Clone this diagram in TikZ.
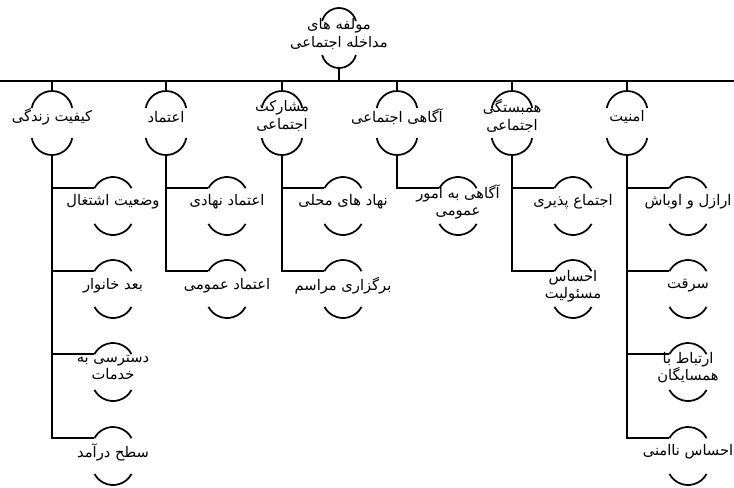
\documentclass[tikz,border=0pt]{standalone}
\usepackage{fontspec}
\newfontfamily\arabicfont[Script=Arabic]{DejaVu Sans}
\TeXXeTstate=1
\usetikzlibrary{calc}
\newcommand\fa[1]{\beginR #1\endR}
% #1 name, #2 centre x, #3 top y (px, downwards), #4 height, #5 radius, #6 angle
\newcommand\archnode[6]{%
  \coordinate (#1-t) at (#2,-#3);
  \coordinate (#1-b) at (#2,-#3-#4);
  \draw[arcline] ($(#1-t)+(0,-#5)+(#6:#5)$) arc[start angle=#6,end angle=180-#6,radius=#5];
  \draw[arcline] ($(#1-b)+(0,#5)+(-#6:#5)$) arc[start angle=-#6,end angle=-180+#6,radius=#5];
  \coordinate (#1-l) at ($(#1-t)+(0,-#5)+(180-#6:#5)$);
}
\newcommand\rootnode[3]{\archnode{#1}{#2}{#3}{60}{17.5}{15}}
\newcommand\topnode[2]{\archnode{#1}{#2}{91}{64}{20.5}{10}}
\newcommand\subnode[3]{\archnode{#1}{#2}{#3}{58}{21}{28}}
\begin{document}
\begin{tikzpicture}[x=0.75pt,y=0.75pt,
  arcline/.style={line width=1.3pt},
  link/.style={line width=1.3pt},
  lbl/.style={font=\arabicfont\fontsize{11}{12.8}\selectfont, inner sep=0pt, align=center}]
\useasboundingbox (0,0) rectangle (734,-487);
% root
\rootnode{root}{339}{8}
\node[lbl] (root-lab) at (339,-34) {\fa{مولفه های}\\\fa{مداخله اجتماعی}};
% bar
\coordinate (barL) at (0,-81);
\coordinate (barR) at (734,-81);
\draw[link] (barL) -- (barR);
\draw[link] (root-b) -- (root-b |- barL);
% level 1
\topnode{q}{52}
\topnode{e}{166}
\topnode{m}{282}
\topnode{g}{397}
\topnode{h}{512}
\topnode{s}{627}
\foreach \k in {q,e,m,g,h,s}{\draw[link] (\k-t |- barL) -- (\k-t);}
\node[lbl] (q-lab) at (52,-117) {\fa{کیفیت زندگی}};
\node[lbl] (e-lab) at (166,-117) {\fa{اعتماد}};
\node[lbl] (m-lab) at (282,-116) {\fa{مشارکت}\\\fa{اجتماعی}};
\node[lbl] (g-lab) at (397,-117) {\fa{آگاهی اجتماعی}};
\node[lbl] (h-lab) at (512,-116) {\fa{همبستگی}\\\fa{اجتماعی}};
\node[lbl] (s-lab) at (627,-117) {\fa{امنیت}};
% children of q
\subnode{q1}{113}{177}
\subnode{q2}{113}{260}
\subnode{q3}{113}{343}
\subnode{q4}{113}{427}
\node[lbl] (q1-lab) at (113,-202) {\fa{وضعیت اشتغال}};
\node[lbl] (q2-lab) at (113,-286) {\fa{بعد خانوار}};
\node[lbl] (q3-lab) at (113,-368) {\fa{دسترسی به}\\\fa{خدمات}};
\node[lbl] (q4-lab) at (113,-452) {\fa{سطح درآمد}};
% children of e
\subnode{e1}{227}{177}
\subnode{e2}{227}{260}
\node[lbl] (e1-lab) at (227,-202) {\fa{اعتماد نهادی}};
\node[lbl] (e2-lab) at (227,-286) {\fa{اعتماد عمومی}};
% children of m
\subnode{m1}{343}{177}
\subnode{m2}{343}{260}
\node[lbl] (m1-lab) at (343,-202) {\fa{نهاد های محلی}};
\node[lbl] (m2-lab) at (343,-286) {\fa{برگزاری مراسم}};
% child of g
\subnode{g1}{458}{177}
\node[lbl] (g1-lab) at (458,-202) {\fa{آگاهی به امور}\\\fa{عمومی}};
% children of h
\subnode{h1}{573}{177}
\subnode{h2}{573}{260}
\node[lbl] (h1-lab) at (573,-202) {\fa{اجتماع پذیری}};
\node[lbl] (h2-lab) at (573,-286) {\fa{احساس}\\\fa{مسئولیت}};
% children of s
\subnode{s1}{688}{177}
\subnode{s2}{688}{260}
\subnode{s3}{688}{343}
\subnode{s4}{688}{427}
\node[lbl] (s1-lab) at (688,-202) {\fa{ارازل و اوباش}};
\node[lbl] (s2-lab) at (688,-286) {\fa{سرقت}};
\node[lbl] (s3-lab) at (688,-368) {\fa{ارتباط با}\\\fa{همسایگان}};
\node[lbl] (s4-lab) at (688,-452) {\fa{احساس ناامنی}};
% connectors to children
\foreach \c in {q1,q2,q3,q4}{\draw[link] (q-b) |- (\c-l);}
\foreach \c in {e1,e2}{\draw[link] (e-b) |- (\c-l);}
\foreach \c in {m1,m2}{\draw[link] (m-b) |- (\c-l);}
\foreach \c in {g1}{\draw[link] (g-b) |- (\c-l);}
\foreach \c in {h1,h2}{\draw[link] (h-b) |- (\c-l);}
\foreach \c in {s1,s2,s3,s4}{\draw[link] (s-b) |- (\c-l);}
\end{tikzpicture}
\end{document}
